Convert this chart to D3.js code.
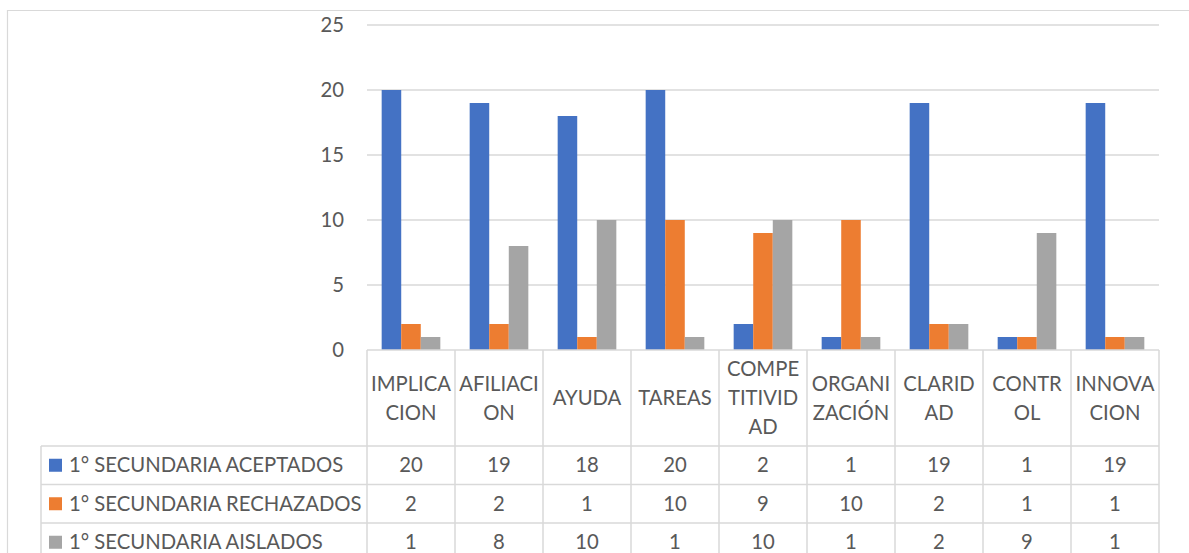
<!DOCTYPE html>
<html>
<head>
<meta charset="utf-8">
<script src="https://cdn.jsdelivr.net/npm/d3@7"></script>
<style>
  body { margin: 0; background: #fff; }
  text { font-family: Lato, "Open Sans", sans-serif; fill: #595959; }
</style>
</head>
<body>
<div id="chart"></div>
<script>
// Data
const categories = ["IMPLICACION", "AFILIACION", "AYUDA", "TAREAS", "COMPETITIVIDAD", "ORGANIZACIÓN", "CLARIDAD", "CONTROL", "INNOVACION"];
// header labels as wrapped in the table
const categoryLines = [
    ["IMPLICA", "CION"],
    ["AFILIACI", "ON"],
    ["AYUDA"],
    ["TAREAS"],
    ["COMPE", "TITIVID", "AD"],
    ["ORGANI", "ZACIÓN"],
    ["CLARID", "AD"],
    ["CONTR", "OL"],
    ["INNOVA", "CION"]
];
const seriesNames = ["1° SECUNDARIA ACEPTADOS", "1° SECUNDARIA RECHAZADOS", "1° SECUNDARIA AISLADOS"];
const aceptados = [20, 19, 18, 20, 2, 1, 19, 1, 19];
const rechazados = [2, 2, 1, 10, 9, 10, 2, 1, 1];
const aislados = [1, 8, 10, 1, 10, 1, 2, 9, 1];
const yTicks = [0, 5, 10, 15, 20, 25];
const colors = ["#4472C4", "#ED7D31", "#A5A5A5"];

const seriesValues = [aceptados, rechazados, aislados];

const width = 1189, height = 553;
const plot = { left: 367, right: 1159, top: 25, bottom: 350 };
const tableLeft = 41;
const headerBottom = 446;
const rowH = 38.5;
const fontSize = 20.3;
const gridColor = "#d9d9d9";

const svg = d3.select("#chart")
    .append("svg")
    .attr("width", width)
    .attr("height", height);

// outer chart border (only left and top visible)
svg.append("path")
    .attr("d", "M7.5,553 V10.5 H1189")
    .attr("fill", "none")
    .attr("stroke", gridColor)
    .attr("stroke-width", 1.2);

// Scales
const x = d3.scaleBand()
    .domain(categories)
    .range([plot.left, plot.right])
    .padding(0);

const xSub = d3.scaleBand()
    .domain(d3.range(seriesNames.length))
    .range([0, x.bandwidth()])
    .paddingInner(0)
    .paddingOuter(0.75);

const y = d3.scaleLinear()
    .domain([0, 25])
    .range([plot.bottom, plot.top]);

// Gridlines
svg.append("g")
    .selectAll("line")
    .data(yTicks.filter(d => d > 0))
    .join("line")
    .attr("x1", plot.left)
    .attr("x2", plot.right)
    .attr("y1", d => y(d))
    .attr("y2", d => y(d))
    .attr("stroke", gridColor)
    .attr("stroke-width", 1.5);

// y axis labels
const yAxis = d3.axisLeft(y).tickValues(yTicks).tickSize(0).tickPadding(0);
const gy = svg.append("g")
    .attr("transform", "translate(344,0)")
    .call(yAxis);
gy.select(".domain").remove();
gy.selectAll("text")
    .attr("font-size", fontSize)
    .attr("font-family", "Lato, 'Open Sans', sans-serif")
    .attr("fill", "#595959");

// Bars
const bars = svg.append("g");
seriesValues.forEach(function (vals, s) {
    bars.selectAll(".bar-" + s)
        .data(vals)
        .join("rect")
        .attr("class", "bar-" + s)
        .attr("x", (d, i) => x(categories[i]) + xSub(s))
        .attr("y", d => y(d))
        .attr("width", xSub.bandwidth())
        .attr("height", d => y(0) - y(d))
        .attr("fill", colors[s]);
});

// Data table
const table = svg.append("g");
const rowTop = i => headerBottom + i * rowH;

// horizontal lines
table.append("line")
    .attr("x1", plot.left).attr("x2", plot.right)
    .attr("y1", plot.bottom).attr("y2", plot.bottom);
d3.range(seriesNames.length + 1).forEach(function (i) {
    table.append("line")
        .attr("x1", tableLeft).attr("x2", plot.right)
        .attr("y1", rowTop(i)).attr("y2", rowTop(i));
});
// vertical lines
table.append("line")
    .attr("x1", tableLeft).attr("x2", tableLeft)
    .attr("y1", headerBottom).attr("y2", height);
categories.forEach(function (c) {
    table.append("line")
        .attr("x1", x(c)).attr("x2", x(c))
        .attr("y1", plot.bottom).attr("y2", height);
});
table.append("line")
    .attr("x1", plot.right).attr("x2", plot.right)
    .attr("y1", plot.bottom).attr("y2", height);
table.selectAll("line")
    .attr("stroke", gridColor)
    .attr("stroke-width", 1.5);

// header labels
const lineH = 29;
const headerMid = (plot.bottom + headerBottom) / 2;
categories.forEach(function (c, i) {
    const lines = categoryLines[i];
    const t = table.append("text")
        .attr("x", x(c) + x.bandwidth() / 2)
        .attr("text-anchor", "middle")
        .attr("font-size", fontSize);
    lines.forEach(function (l, k) {
        t.append("tspan")
            .attr("x", x(c) + x.bandwidth() / 2)
            .attr("y", headerMid + (k - (lines.length - 1) / 2) * lineH)
            .attr("dy", "0.35em")
            .text(l);
    });
});

// rows
seriesNames.forEach(function (name, s) {
    const cy = rowTop(s) + rowH / 2;
    table.append("rect")
        .attr("x", 49)
        .attr("y", cy - 6.5)
        .attr("width", 13)
        .attr("height", 13)
        .attr("fill", colors[s]);
    table.append("text")
        .attr("x", 69)
        .attr("y", cy)
        .attr("dy", "0.35em")
        .attr("font-size", fontSize)
        .text(name);
    table.selectAll(".val-" + s)
        .data(seriesValues[s])
        .join("text")
        .attr("class", "val-" + s)
        .attr("x", (d, i) => x(categories[i]) + x.bandwidth() / 2)
        .attr("y", cy)
        .attr("dy", "0.35em")
        .attr("text-anchor", "middle")
        .attr("font-size", fontSize)
        .text(d => d);
});
</script>
</body>
</html>
